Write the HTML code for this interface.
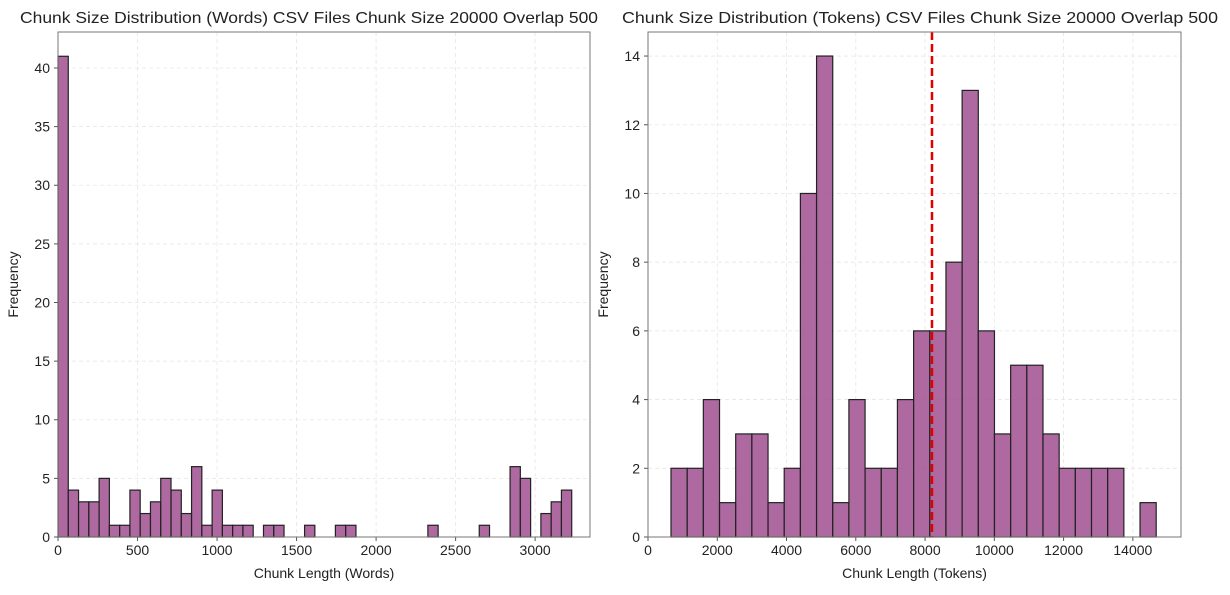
<!DOCTYPE html>
<html><head><meta charset="utf-8"><style>
body{margin:0;background:#fff;}
svg text{font-family:"Liberation Sans",sans-serif;fill:#222;}
</style></head><body>
<svg id="c" width="1230" height="590" xmlns="http://www.w3.org/2000/svg"></svg>
<script>
const wordCounts=[41,4,3,3,5,1,1,4,2,3,5,4,2,6,1,4,1,1,1,0,1,1,0,0,1,0,0,1,1,0,0,0,0,0,0,0,1,0,0,0,0,1,0,0,6,5,0,2,3,4];
const wordBinStart=0, wordBinWidth=64.6;
const wordXTicks=[0,500,1000,1500,2000,2500,3000];
const wordYTicks=[0,5,10,15,20,25,30,35,40];
const tokenCounts=[2,2,4,1,3,3,1,2,10,14,1,4,2,2,4,6,6,8,13,6,3,5,5,3,2,2,2,2,0,1];
const tokenBinStart=664, tokenBinWidth=467;
const tokenXTicks=[0,2000,4000,6000,8000,10000,12000,14000];
const tokenYTicks=[0,2,4,6,8,10,12,14];
const tokenMean=[8200];

const svg=document.getElementById('c');
const NS='http://www.w3.org/2000/svg';
function mk(tag,attrs,parent){const e=document.createElementNS(NS,tag);for(const k in attrs)e.setAttribute(k,attrs[k]);(parent||svg).appendChild(e);return e;}

function panel(o){
  const g=mk('g',{});
  
  
  const X=v=>o.x0+(v-o.xmin)/(o.xmax-o.xmin)*(o.x1-o.x0);
  const Y=v=>o.y0-(v)/(o.ymax)*(o.y0-o.y1);
  o.xt.forEach(t=>{const l=mk('line',{x1:X(t),x2:X(t),y1:o.y1,y2:o.y0,stroke:'#e6e6e6','stroke-dasharray':'4,3','stroke-width':0.8},g);
    const tx=mk('text',{x:X(t),y:o.y0+18,'text-anchor':'middle','font-size':14},g);tx.textContent=t;
    mk('line',{x1:X(t),x2:X(t),y1:o.y0,y2:o.y0+4,stroke:'#555'},g);});
  o.yt.forEach(t=>{const l=mk('line',{x1:o.x0,x2:o.x1,y1:Y(t),y2:Y(t),stroke:'#e6e6e6','stroke-dasharray':'4,3','stroke-width':0.8},g);
    const tx=mk('text',{x:o.x0-8,y:Y(t)+5,'text-anchor':'end','font-size':14},g);tx.textContent=t;
    mk('line',{x1:o.x0-4,x2:o.x0,y1:Y(t),y2:Y(t),stroke:'#555'},g);});
  o.counts.forEach((c,i)=>{if(c<=0)return;const a=o.bs+i*o.bw;const r=mk('rect',{x:X(a),y:Y(c),width:X(a+o.bw)-X(a),height:Y(0)-Y(c),fill:'#a0508f','fill-opacity':0.85,stroke:'#222','stroke-width':1.2},g);
    });
  if(o.mean){o.mean.forEach(m=>{const l=mk('line',{x1:X(m),x2:X(m),y1:o.y1,y2:o.y0,stroke:'#e00000','stroke-width':2.5,'stroke-dasharray':'8,4'},g);});}
  const f=mk('rect',{x:o.x0,y:o.y1,width:o.x1-o.x0,height:o.y0-o.y1,fill:'none',stroke:'#777','stroke-width':1},g);
  const t=mk('text',{x:o.tx-o.tl/2,y:23,'font-size':16,textLength:o.tl,lengthAdjust:'spacingAndGlyphs'},g);t.textContent=o.title;
  const xl=mk('text',{x:(o.x0+o.x1)/2,y:578,'text-anchor':'middle','font-size':14},g);xl.textContent=o.xlabel;
  const yl=mk('text',{x:0,y:0,'text-anchor':'middle','font-size':14,transform:`translate(${o.x0-40},${(o.y0+o.y1)/2}) rotate(-90)`},g);yl.textContent='Frequency';
}
panel({name:'words-histogram',x0:58,x1:590,y0:537,y1:32,xmin:0,xmax:3345,ymax:43.07,xt:wordXTicks,yt:wordYTicks,counts:wordCounts,bs:wordBinStart,bw:wordBinWidth,
  title:'Chunk Size Distribution (Words) CSV Files Chunk Size 20000 Overlap 500',xlabel:'Chunk Length (Words)',tx:309,tl:578});
panel({name:'tokens-histogram',x0:648,x1:1181,y0:537,y1:32,xmin:0,xmax:15390,ymax:14.7,xt:tokenXTicks,yt:tokenYTicks,counts:tokenCounts,bs:tokenBinStart,bw:tokenBinWidth,mean:tokenMean,
  title:'Chunk Size Distribution (Tokens) CSV Files Chunk Size 20000 Overlap 500',xlabel:'Chunk Length (Tokens)',tx:920,tl:596});
</script>
</body></html>
